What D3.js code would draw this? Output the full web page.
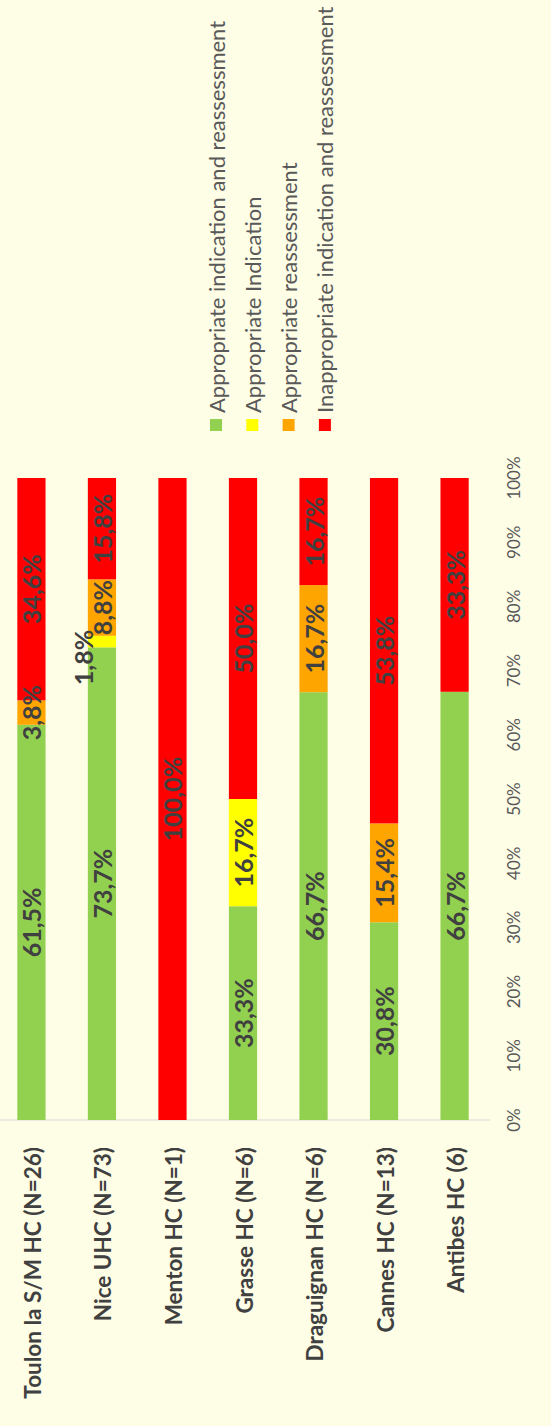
<!DOCTYPE html>
<html>
  <head>
    <meta charset="utf-8" />
    <script src="https://cdn.jsdelivr.net/npm/d3@7"></script>
    <style>
      html, body { margin: 0; padding: 0; background: #fefde6; }
      svg { display: block; font-family: Lato, "Open Sans", sans-serif; }
    </style>
  </head>
  <body>
    <script>
      // the chart is drawn as a normal horizontal stacked bar chart
      // and then turned a quarter turn, like in the original slide
      const categories = [
        "Toulon la S/M HC (N=26)",
        "Nice UHC (N=73)",
        "Menton HC (N=1)",
        "Grasse HC (N=6)",
        "Draguignan HC (N=6)",
        "Cannes HC (N=13)",
        "Antibes HC (6)"
      ];
      const seriesNames = [
        "Appropriate indication and reassessment",
        "Appropriate Indication",
        "Appropriate reassessment",
        "Inappropriate indication and reassessment"
      ];
      const seriesColors = ["#92d050", "#ffff00", "#ffa500", "#ff0000"];
      const apprBoth = [61.5, 73.7, 0, 33.3, 66.7, 30.8, 66.7];
      const apprIndication = [0, 1.8, 0, 16.7, 0, 0, 0];
      const apprReassess = [3.8, 8.8, 0, 0, 16.7, 15.4, 0];
      const inappropriate = [34.6, 15.8, 100, 50.0, 16.7, 53.8, 33.3];
      const tickValues = [0, 0.1, 0.2, 0.3, 0.4, 0.5, 0.6, 0.7, 0.8, 0.9, 1];

      const W = 551, H = 1426; // page size
      const rows = categories.map(function (c, i) {
        return { cat: c, s0: apprBoth[i], s1: apprIndication[i], s2: apprReassess[i], s3: inappropriate[i] };
      });
      const keys = ["s0", "s1", "s2", "s3"];

      const svg = d3.select("body").append("svg")
        .attr("width", W)
        .attr("height", H);

      svg.append("rect").attr("width", W).attr("height", H).attr("fill", "#fefde6");

      // inner frame: u runs along the value axis, v across the bars
      const g = svg.append("g")
        .attr("transform", "translate(0," + H + ") rotate(-90)");

      const x = d3.scaleLinear().domain([0, 1]).range([306, 948]);
      const y = d3.scaleBand().domain(categories).range([-25, 511]).padding(0.6);

      const stack = d3.stack().keys(keys).offset(d3.stackOffsetExpand);
      const layers = stack(rows);

      // baseline
      g.append("line")
        .attr("x1", x(0)).attr("x2", x(0))
        .attr("y1", 0).attr("y2", 490)
        .attr("stroke", "#d9d9d9").attr("stroke-width", 1);

      // bars
      layers.forEach(function (layer, k) {
        g.append("g")
          .attr("fill", seriesColors[k])
          .selectAll("rect")
          .data(layer.filter(function (d) { return d[1] - d[0] > 0; }))
          .enter()
          .append("rect")
          .attr("x", function (d) { return x(d[0]); })
          .attr("y", function (d) { return y(d.data.cat); })
          .attr("width", function (d) { return x(d[1]) - x(d[0]); })
          .attr("height", y.bandwidth());
      });

      // value labels (tiny segments get theirs beside the bar)
      const fmt = function (v) { return d3.format(".1f")(v).replace(".", ",") + "%"; };
      layers.forEach(function (layer, k) {
        g.append("g")
          .selectAll("text")
          .data(layer.filter(function (d) { return d[1] - d[0] > 0; }))
          .enter()
          .append("text")
          .attr("x", function (d) {
            const mid = x((d[0] + d[1]) / 2);
            return d.data[keys[k]] < 3 ? mid - 16 : mid;
          })
          .attr("y", function (d) {
            const c = y(d.data.cat) + y.bandwidth() / 2;
            return d.data[keys[k]] < 3 ? y(d.data.cat) - 5 : c;
          })
          .attr("text-anchor", "middle")
          .attr("dominant-baseline", "central")
          .attr("font-size", 25)
          .attr("font-weight", "bold")
          .attr("fill", "#404040")
          .text(function (d) { return fmt(d.data[keys[k]]); });
      });

      // category labels
      g.append("g")
        .selectAll("text")
        .data(categories)
        .enter()
        .append("text")
        .attr("x", x(0) - 27)
        .attr("y", function (d) { return y(d) + y.bandwidth() / 2 + 1; })
        .attr("text-anchor", "end")
        .attr("dominant-baseline", "central")
        .attr("font-size", 22.5)
        .attr("font-weight", "bold")
        .attr("fill", "#404040")
        .text(function (d) { return d; });

      // value axis ticks
      g.append("g")
        .selectAll("text")
        .data(tickValues)
        .enter()
        .append("text")
        .attr("x", function (d) { return x(d); })
        .attr("y", 513)
        .attr("text-anchor", "middle")
        .attr("dominant-baseline", "central")
        .attr("font-size", 17)
        .attr("fill", "#595959")
        .text(function (d) { return d3.format(".0%")(d); });

      // legend
      const legend = g.append("g")
        .selectAll("g")
        .data(seriesNames)
        .enter()
        .append("g")
        .attr("transform", function (d, i) { return "translate(1001," + (216 + i * 36.3) + ")"; });
      legend.append("rect")
        .attr("x", -6).attr("y", -6)
        .attr("width", 12).attr("height", 12)
        .attr("fill", function (d, i) { return seriesColors[i]; });
      legend.append("text")
        .attr("x", 12)
        .attr("dominant-baseline", "central")
        .attr("font-size", 22)
        .attr("fill", "#595959")
        .text(function (d) { return d; });
    </script>
  </body>
</html>
